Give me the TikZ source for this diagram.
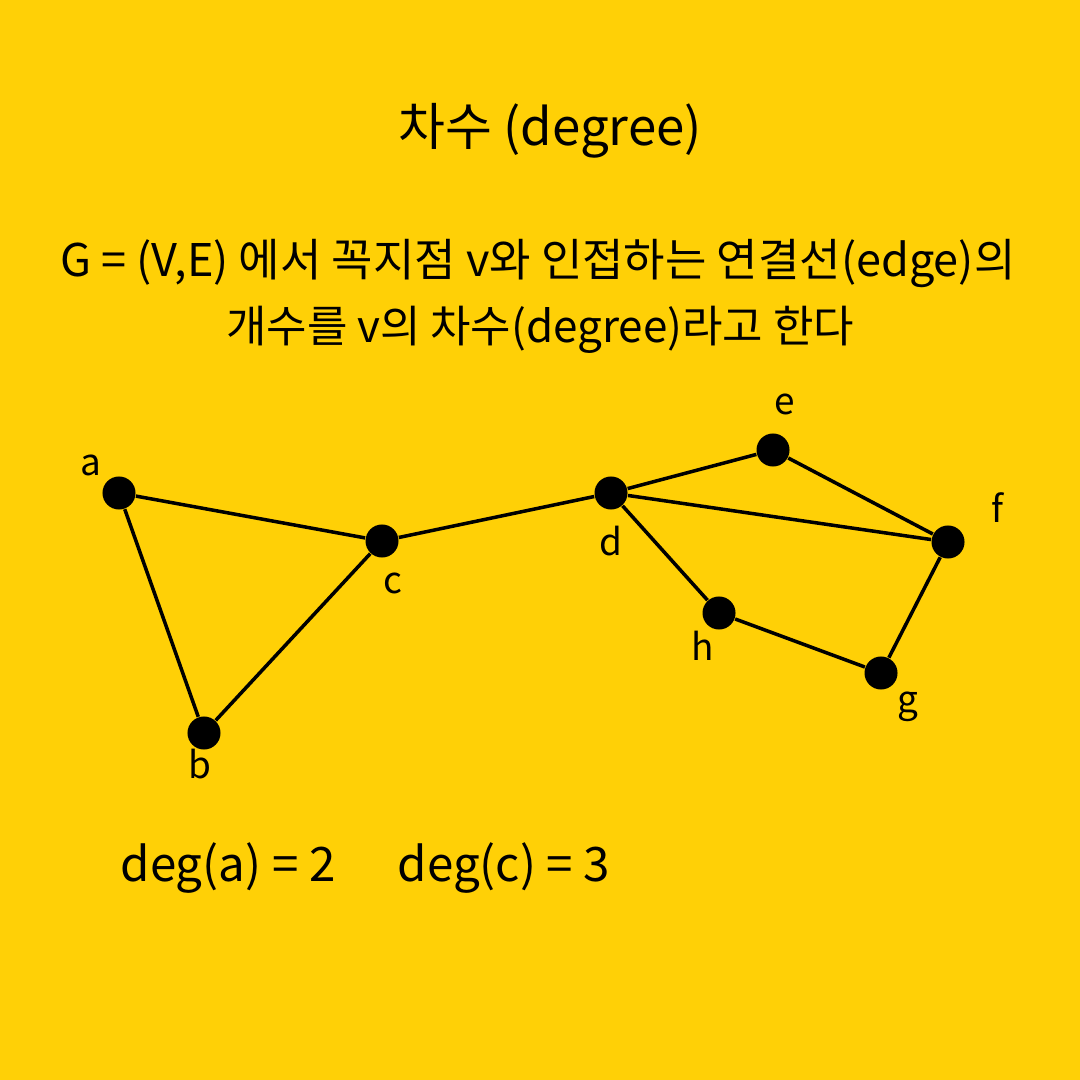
\documentclass[tikz,border=0pt]{standalone}
\usepackage{fontspec}
\setmainfont{Noto Sans CJK KR}
\definecolor{bgyellow}{HTML}{FFD006}
\begin{document}
\begin{tikzpicture}[x=0.01cm,y=-0.01cm,
  vertex/.style={circle,fill=black,inner sep=0pt,minimum size=0.33cm},
  edge/.style={line width=1pt,black},
  lbl/.style={anchor=base,font=\fontsize{10.5}{12}\selectfont,inner sep=0pt},
  txt/.style={anchor=base,inner sep=0pt}]
\fill[bgyellow] (0,0) rectangle (1080,1080);
\useasboundingbox (0,0) rectangle (1080,1080);
\node[txt,font=\fontsize{14.5}{16}\selectfont] (title) at (550,146) {차수 (degree)};
\node[txt,font=\fontsize{12.8}{14}\selectfont] (line1) at (538,277) {G = (V,E) 에서 꼭지점 v와 인접하는 연결선(edge)의};
\node[txt,font=\fontsize{12.5}{14}\selectfont] (line2) at (540,343) {개수를 v의 차수(degree)라고 한다};
\node[vertex] (a) at (119,493) {};
\node[vertex] (b) at (204,733) {};
\node[vertex] (c) at (382,541) {};
\node[vertex] (d) at (611,493) {};
\node[vertex] (e) at (773,450) {};
\node[vertex] (f) at (948,542) {};
\node[vertex] (h) at (719,613) {};
\node[vertex] (g) at (881,673) {};
\node[lbl] (la) at (91,476) {a};
\node[lbl] (lb) at (200,778) {b};
\node[lbl] (lc) at (393,593) {c};
\node[lbl] (ld) at (611,555) {d};
\node[lbl] (le) at (785,415) {e};
\node[lbl] (lf) at (997,522) {f};
\node[lbl] (lh) at (703,660) {h};
\node[lbl] (lg) at (908,712) {g};
\draw[edge] (a) -- (c);
\draw[edge] (a) -- (b);
\draw[edge] (b) -- (c);
\draw[edge] (c) -- (d);
\draw[edge] (d) -- (e);
\draw[edge] (d) -- (f);
\draw[edge] (e) -- (f);
\draw[edge] (d) -- (h);
\draw[edge] (h) -- (g);
\draw[edge] (g) -- (f);
\node[txt,font=\fontsize{13.5}{15}\selectfont] (dega) at (228,881) {deg(a) = 2};
\node[txt,font=\fontsize{13.5}{15}\selectfont] (degc) at (504,881) {deg(c) = 3};
\end{tikzpicture}
\end{document}
